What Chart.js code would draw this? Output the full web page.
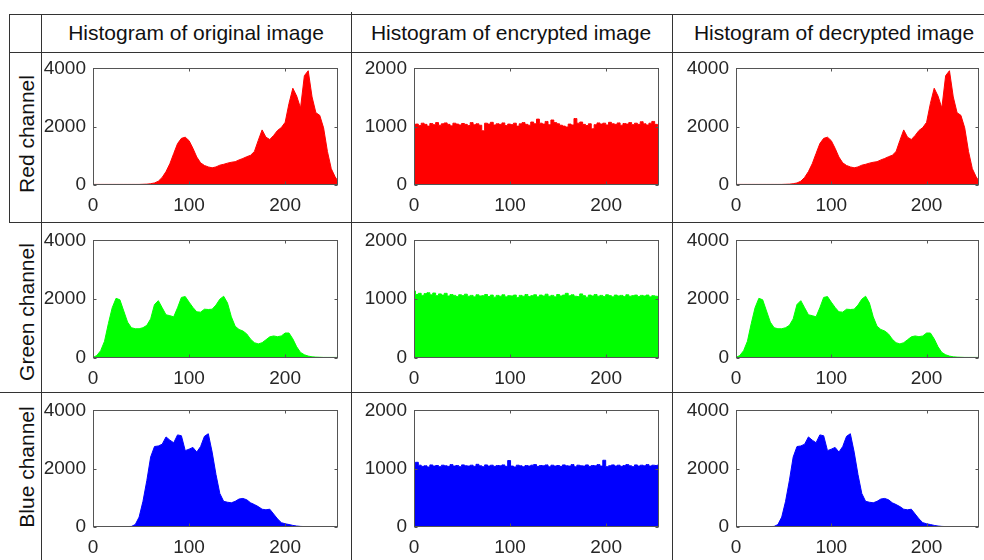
<!DOCTYPE html>
<html>
<head>
<meta charset="utf-8">
<script src="https://cdn.jsdelivr.net/npm/chart.js@4.4.0/dist/chart.umd.min.js"></script>
<style>
  body { margin: 0; background: #fff; width: 984px; height: 560px; overflow: hidden; position: relative;
         font-family: "Liberation Sans", Arial, sans-serif; }
  .ln { position: absolute; background: #333; }
  .head { position: absolute; font-size: 21px; line-height: 24px; color: #111; white-space: nowrap; transform: translateX(-50%); }
  .rowlab { position: absolute; font-size: 21px; line-height: 24px; color: #111; white-space: nowrap;
            transform: translate(-50%, -50%) rotate(-90deg); }
  canvas { position: absolute; }
</style>
</head>
<body>
<script>
// grey levels (x axis)
const levels = [0,4,8,12,16,20,24,28,32,36,40,44,48,52,56,60,64,68,72,76,80,84,88,92,96,100,104,108,112,116,120,124,128,132,136,140,144,148,152,156,160,164,168,172,176,180,184,188,192,196,200,204,208,212,216,220,224,228,232,236,240,244,248,252,255];
const encLevels = [0,3,6,9,12,15,18,21,24,27,30,33,36,39,42,45,48,51,54,57,60,63,66,69,72,75,78,81,84,87,90,93,96,99,102,105,108,111,114,117,120,123,126,129,132,135,138,141,144,147,150,153,156,159,162,165,168,171,174,177,180,183,186,189,192,195,198,201,204,207,210,213,216,219,222,225,228,231,234,237,240,243,246,249,252,255];

// original (and decrypted) image histograms
const redOrig = [20,20,20,20,20,20,20,20,20,20,
  20,20,20,25,30,45,70,130,260,460,
  730,1080,1420,1600,1640,1520,1260,960,760,670,
  620,590,620,680,710,750,780,800,860,910,
  970,1020,1150,1530,1890,1640,1560,1700,1870,1970,
  2150,2800,3320,3050,2640,3750,3920,3020,2480,2390,
  1960,1150,560,280,130];
const greenOrig = [20,85,250,570,1170,1710,2030,1980,1600,1220,
  1030,995,995,1030,1110,1330,1820,1950,1710,1470,
  1440,1400,1710,2060,2090,1900,1720,1570,1560,1660,
  1650,1660,1800,2000,2100,1870,1400,1080,970,920,
  820,640,520,480,520,620,720,750,725,750,
  850,850,650,380,190,110,65,40,30,25,
  20,20,20,20,20];
const blueOrig = [10,10,10,10,10,10,10,10,12,15,
  20,85,340,880,1590,2400,2760,2780,2840,3090,
  2980,2890,3160,3130,2620,2670,2730,2570,2760,3110,
  3200,2570,1800,1150,880,850,830,880,960,980,
  935,830,770,700,610,590,610,445,280,150,
  110,85,55,33,20,15,12,10,10,10,
  10,10,10,10,10];

// encrypted image histograms
const redEnc = [1030,1045,1020,1060,1040,1010,1055,1035,1070,1025,
  1050,1065,1040,1015,1060,1045,1030,1055,1040,1020,
  1070,1035,1050,1025,930,1060,1045,1075,1030,1050,
  1040,1065,1020,1045,1035,1060,1010,1050,1070,1040,
  1025,1080,1050,1130,1060,1045,1090,1035,1115,1070,
  1050,1025,1010,995,1045,1030,1140,1060,1080,1040,
  1020,1050,965,1035,1065,1045,1060,1030,1075,1050,
  1040,1065,1025,1055,1045,1070,1035,1060,1040,1085,
  1050,1030,1060,1090,1040,1005];
const greenEnc = [1140,1080,1100,1065,1095,1110,1075,1105,1060,1090,
  1070,1100,1055,1080,1065,1045,1075,1060,1085,1050,
  1065,1040,1075,1055,1060,1080,1045,1070,1035,1065,
  1050,1075,1040,1060,1055,1070,1030,1065,1050,1080,
  1045,1060,1075,1040,1070,1055,1085,1050,1065,1040,
  1080,1055,1070,1100,1060,1075,1050,1045,1090,1060,
  1035,1070,1055,1080,1050,1065,1045,1075,1060,1040,
  1070,1055,1065,1045,1075,1050,1060,1070,1045,1065,
  1055,1070,1040,1060,1050,1045];
const blueEnc = [1045,1110,1060,1040,1050,1030,1065,1045,1055,1035,
  1060,1050,1040,1070,1045,1055,1035,1065,1050,1045,
  1060,1040,1075,1050,1035,1065,1045,1060,1040,1055,
  1050,1065,1040,1140,1045,1030,1060,1050,1035,1055,
  1045,1060,1070,1040,1055,1050,1065,1035,1060,1045,
  1055,1040,1065,1050,1045,1070,1035,1060,1050,1045,
  1065,1040,1055,1050,1070,1045,1145,1035,1050,1065,
  1045,1060,1040,1055,1070,1050,1035,1065,1045,1060,
  1050,1070,1045,1060,1055,1065];

const xTicks = [0, 100, 200];
const origYTicks = [0, 2000, 4000];
const encYTicks = [0, 1000, 2000];

const colTitles = ['Histogram of original image', 'Histogram of encrypted image', 'Histogram of decrypted image'];
const rowTitles = ['Red channel', 'Green channel', 'Blue channel'];
const colors = ['#ff0000', '#00ff00', '#0000ff'];

const FONT = '"Liberation Sans", Arial, sans-serif';

// table geometry
const cols = [{ l: 93, r: 338, c: 196 }, { l: 414, r: 659, c: 511 }, { l: 736, r: 979, c: 834 }];
const rows = [{ t: 62, b: 185, c: 134 }, { t: 234, b: 358, c: 312 }, { t: 404, b: 527, c: 467 }];

function line(x, y, w, h) {
  const d = document.createElement('div');
  d.className = 'ln';
  d.style.left = x + 'px'; d.style.top = y + 'px';
  d.style.width = w + 'px'; d.style.height = h + 'px';
  document.body.appendChild(d);
}
line(9, 14, 975, 1);
line(9, 52, 975, 1);
line(9, 222, 975, 1);
line(0, 392, 984, 1);
line(9, 14, 1, 209);
line(41, 14, 1, 546);
line(351, 12, 1, 548);
line(672, 14, 1, 546);

colTitles.forEach((t, i) => {
  const d = document.createElement('div');
  d.className = 'head';
  d.textContent = t;
  d.style.left = cols[i].c + 'px';
  d.style.top = '21px';
  document.body.appendChild(d);
});
rowTitles.forEach((t, i) => {
  const d = document.createElement('div');
  d.className = 'rowlab';
  d.textContent = t;
  d.style.left = '27px';
  d.style.top = rows[i].c + 'px';
  document.body.appendChild(d);
});

// axes box with inward ticks, like the original figure
const boxPlugin = {
  id: 'box',
  afterDatasetsDraw(chart) {
    const { ctx, chartArea: a, scales } = chart;
    const L = Math.round(a.left) + 0.5, R = Math.round(a.right) - 0.5;
    const T = Math.round(a.top) + 0.5, B = Math.round(a.bottom) - 0.5;
    ctx.save();
    ctx.strokeStyle = '#555';
    ctx.lineWidth = 1;
    ctx.strokeRect(L, T, R - L, B - T);
    ctx.beginPath();
    scales.x.ticks.forEach(t => {
      const px = Math.round(scales.x.getPixelForValue(t.value)) + 0.5;
      ctx.moveTo(px, B); ctx.lineTo(px, B - 3);
      ctx.moveTo(px, T); ctx.lineTo(px, T + 3);
    });
    scales.y.ticks.forEach(t => {
      const py = Math.round(scales.y.getPixelForValue(t.value)) + 0.5;
      ctx.moveTo(L, py); ctx.lineTo(L + 3, py);
      ctx.moveTo(R, py); ctx.lineTo(R - 3, py);
    });
    ctx.stroke();
    ctx.restore();
  }
};

function makeChart(row, col, xs, ys, color, yTicks, stepped) {
  const c = cols[col], r = rows[row];
  const cv = document.createElement('canvas');
  const w = c.r - c.l + 76, h = r.b - r.t + 52;
  cv.width = w; cv.height = h;
  cv.style.left = (c.l - 70) + 'px';
  cv.style.top = (r.t - 12) + 'px';
  cv.style.width = w + 'px'; cv.style.height = h + 'px';
  document.body.appendChild(cv);

  new Chart(cv.getContext('2d'), {
    type: 'line',
    data: {
      datasets: [{
        data: xs.map((x, i) => ({ x: x, y: ys[i] })),
        fill: 'origin',
        backgroundColor: color,
        borderColor: color,
        borderWidth: 1,
        pointRadius: 0,
        tension: 0,
        stepped: stepped
      }]
    },
    options: {
      responsive: false,
      animation: false,
      devicePixelRatio: 1,
      layout: { padding: { top: 12, right: 6, left: 0, bottom: 0 } },
      plugins: { legend: { display: false }, tooltip: { enabled: false } },
      scales: {
        x: {
          type: 'linear', min: 0, max: 255,
          grid: { display: false, drawTicks: false },
          border: { display: false },
          afterBuildTicks: s => { s.ticks = xTicks.map(v => ({ value: v })); },
          afterFit: s => { s.height = 40; },
          ticks: { padding: 9, color: '#262626', maxRotation: 0, autoSkip: false,
                   callback: v => String(v), font: { size: 19, family: FONT } }
        },
        y: {
          min: 0, max: yTicks[yTicks.length - 1],
          grid: { display: false, drawTicks: false },
          border: { display: false },
          afterBuildTicks: s => { s.ticks = yTicks.map(v => ({ value: v })); },
          afterFit: s => { s.width = 70; },
          ticks: { padding: 7, color: '#262626', autoSkip: false,
                   callback: v => String(v), font: { size: 19, family: FONT } }
        }
      }
    },
    plugins: [boxPlugin]
  });
}

const origData = [redOrig, greenOrig, blueOrig];
const encData = [redEnc, greenEnc, blueEnc];
for (let i = 0; i < 3; i++) {
  makeChart(i, 0, levels, origData[i], colors[i], origYTicks, false);
  makeChart(i, 1, encLevels, encData[i], colors[i], encYTicks, 'middle');
  makeChart(i, 2, levels, origData[i], colors[i], origYTicks, false);
}
</script>
</body>
</html>
